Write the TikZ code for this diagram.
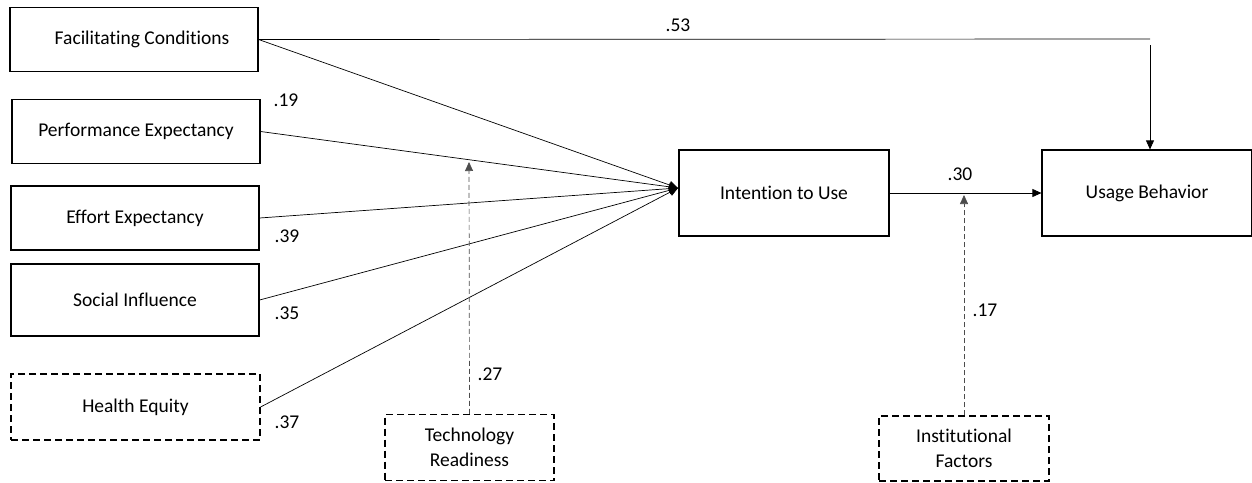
\documentclass[tikz,border=0pt]{standalone}
\usepackage{fontspec}
\setmainfont{Carlito}[Ligatures=NoCommon]
\usetikzlibrary{arrows.meta}
\begin{document}
\begin{tikzpicture}[x=1pt,y=-1pt,
  box/.style={draw,line width=1.2pt,minimum width=248pt,minimum height=64pt,inner sep=0pt,font=\fontsize{19.5}{24}\selectfont,align=center},
  dbox/.style={box,dashed,dash pattern=on 7pt off 4pt},
  arr/.style={-{Triangle[length=9pt,width=8pt]},line width=0.7pt},
  darr/.style={arr,dashed,dash pattern=on 5pt off 3pt,draw=black!70},
  lab/.style={font=\fontsize{19.5}{24}\selectfont,inner sep=0pt}]
\useasboundingbox (0,0) rectangle (1252,482);
\node[box] (fc) at (134,39.5) {\hspace*{16pt}Facilitating Conditions};
\node[box] (pe) at (136,131.5) {Performance Expectancy};
\node[box] (ee) at (135,218) {Effort Expectancy};
\node[box,minimum height=72pt] (si) at (135,300) {Social Influence};
\node[dbox,minimum width=249pt,minimum height=66pt] (he) at (135.5,407) {Health Equity};
\node[dbox,minimum width=169pt,minimum height=66pt] (tr) at (469.5,447.5) {Technology\\[1pt]Readiness};
\node[box,minimum width=210pt,minimum height=86pt] (iu) at (784,193) {Intention to Use};
\node[box,minimum width=210pt,minimum height=86pt] (ub) at (1147,193) {Usage Behavior};
\node[dbox,minimum width=170pt,minimum height=65pt] (inf) at (964,448.5) {Institutional\\[1pt]Factors};
\coordinate (tip) at (678,188);
\coordinate (c1) at (1150,39);
\coordinate (c2) at (1150,45);
\coordinate (m1) at (469,162);
\coordinate (m2) at (964,195);
\draw[line width=0.7pt] (fc.east) -- (c1);
\draw[arr] (c2) -- (ub.north -| c2);
\draw[arr] (fc.east) -- (tip);
\draw[arr] (pe.east) -- (tip);
\draw[arr] (ee.east) -- (tip);
\draw[arr] (si.east) -- (tip);
\draw[arr] (he.east) -- (tip);
\draw[arr] (iu.east) -- (ub.west);
\draw[darr] (tr.north) -- (m1);
\draw[darr] (inf.north) -- (m2);
\node[lab] (l53) at (678,25) {.53};
\node[lab] (l19) at (286,100) {.19};
\node[lab] (l39) at (287,236) {.39};
\node[lab] (l35) at (287,313) {.35};
\node[lab] (l37) at (287,422) {.37};
\node[lab] (l27) at (490,374) {.27};
\node[lab] (l30) at (960,174) {.30};
\node[lab] (l17) at (985,310) {.17};
\end{tikzpicture}
\end{document}
